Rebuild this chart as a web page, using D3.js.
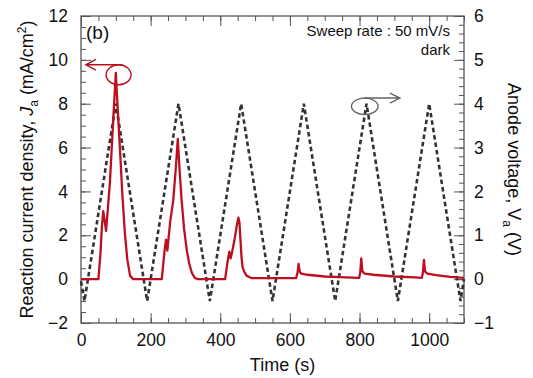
<!DOCTYPE html>
<html>
<head>
<meta charset="utf-8">
<script src="https://cdn.jsdelivr.net/npm/d3@7"></script>
<style>
  body { margin: 0; background: #fff; }
  svg { display: block; font-family: "Liberation Sans", Arial, sans-serif; }
</style>
</head>
<body>
<div id="chart"></div>
<script>
// anode voltage (dashed, right axis) - triangle sweep corners
const voltTime = [0, 10, 100, 190, 280, 370, 460, 550, 640, 730, 820, 910, 1000, 1090, 1100];
const voltValue = [-0.05, -0.5, 4, -0.5, 4, -0.5, 4, -0.5, 4, -0.5, 4, -0.5, 4, -0.5, 0];

// reaction current density (red, left axis)
const curTime = [0, 50, 56, 60, 64, 72, 83, 93, 100, 106, 112, 119, 126, 133, 141, 150,
  232, 240, 244, 248, 256, 265, 272, 278, 283, 289, 296, 304, 311, 318, 327, 335,
  414, 420, 426, 430, 436, 442, 448, 452, 455, 458, 461, 464, 470, 476, 490,
  618, 622, 625, 628, 633, 650, 700, 760, 799,
  802, 805, 808, 815, 840, 900, 960, 979,
  982, 985, 988, 995, 1020, 1060, 1100];
const curValue = [0, 0, 1.2, 2.4, 3.1, 2.2, 4.4, 7.4, 9.4, 7.6, 5.9, 3.8, 2.1, 0.9, 0.15, 0,
  0, 1.3, 1.8, 1.3, 2.6, 3.6, 5.0, 6.4, 5.0, 3.6, 2.3, 1.3, 0.7, 0.3, 0.05, 0,
  0, 0.7, 1.25, 0.95, 1.4, 1.9, 2.5, 2.8, 2.6, 1.8, 1.0, 0.55, 0.3, 0.15, 0.05,
  0.05, 0.3, 0.7, 0.35, 0.25, 0.2, 0.12, 0.08, 0.06,
  0.3, 0.95, 0.35, 0.25, 0.2, 0.12, 0.08, 0.06,
  0.3, 0.88, 0.35, 0.25, 0.18, 0.1, 0.06];

const xTicks = [0, 200, 400, 600, 800, 1000];
const jTicks = [-2, 0, 2, 4, 6, 8, 10, 12];
const vTicks = [-1, 0, 1, 2, 3, 4, 5, 6];

// annotation anchors in data units
const redMark = { t: 108, j: 9.32, arrowTo: 14 };
const greyMark = { t: 815, v: 3.94, arrowTo: 916 };

const width = 533, height = 378;
const margin = { top: 16, right: 69, bottom: 55, left: 81 };
const plotW = width - margin.left - margin.right;
const plotH = height - margin.top - margin.bottom;

const svg = d3.select('#chart').append('svg')
  .attr('width', width)
  .attr('height', height);
const g = svg.append('g')
  .attr('transform', `translate(${margin.left},${margin.top})`);

const x = d3.scaleLinear().domain([0, 1100]).range([0, plotW]);
const yJ = d3.scaleLinear().domain([-2, 12]).range([plotH, 0]);
const yV = d3.scaleLinear().domain([-1, 6]).range([plotH, 0]);

const axisColor = '#555';
const major = 10, minor = 5;
const fmt = d3.format('d');

function styleAxis(sel) {
  sel.select('.domain').remove();
  sel.selectAll('line').attr('stroke', axisColor).attr('stroke-width', 1);
  sel.selectAll('text')
    .attr('fill', '#111')
    .style('font-size', '17.5px');
}

// minor ticks
g.append('g').attr('transform', `translate(0,${plotH})`)
  .call(d3.axisBottom(x).tickValues(d3.range(0, 1101, 50)).tickSize(-minor).tickFormat(''))
  .call(styleAxis);
g.append('g')
  .call(d3.axisTop(x).tickValues(d3.range(0, 1101, 50)).tickSize(-minor).tickFormat(''))
  .call(styleAxis);
g.append('g')
  .call(d3.axisLeft(yJ).tickValues(d3.range(-2, 12.01, 0.5)).tickSize(-minor).tickFormat(''))
  .call(styleAxis);
g.append('g').attr('transform', `translate(${plotW},0)`)
  .call(d3.axisRight(yV).tickValues(d3.range(-1, 6.01, 0.2)).tickSize(-minor).tickFormat(''))
  .call(styleAxis);

// major ticks with labels
g.append('g').attr('transform', `translate(0,${plotH})`)
  .call(d3.axisBottom(x).tickValues(xTicks).tickSize(-major).tickPadding(11).tickFormat(fmt))
  .call(styleAxis);
g.append('g')
  .call(d3.axisTop(x).tickValues(xTicks).tickSize(-major).tickFormat(''))
  .call(styleAxis);
g.append('g')
  .call(d3.axisLeft(yJ).tickValues(jTicks).tickSize(-major).tickPadding(13).tickFormat(fmt))
  .call(styleAxis);
g.append('g').attr('transform', `translate(${plotW},0)`)
  .call(d3.axisRight(yV).tickValues(vTicks).tickSize(-major).tickPadding(10).tickFormat(fmt))
  .call(styleAxis);

// frame
g.append('rect')
  .attr('width', plotW).attr('height', plotH)
  .attr('fill', 'none')
  .attr('stroke', axisColor)
  .attr('stroke-width', 1.3);

const plot = g.append('g');

const voltLine = d3.line()
  .x((d, i) => x(voltTime[i]))
  .y(d => yV(d));
plot.append('path')
  .datum(voltValue)
  .attr('fill', 'none')
  .attr('stroke', '#333')
  .attr('stroke-width', 2.6)
  .attr('stroke-dasharray', '4.5 3')
  .attr('d', voltLine);

const red = '#bd0f1f';
const curLine = d3.line()
  .x((d, i) => x(curTime[i]))
  .y(d => yJ(d));
plot.append('path')
  .datum(curValue)
  .attr('fill', 'none')
  .attr('stroke', red)
  .attr('stroke-width', 2.3)
  .attr('stroke-linejoin', 'round')
  .attr('d', curLine);

// red marker: circle + arrow to the left
const rcx = x(redMark.t), rcy = yJ(redMark.j);
g.append('ellipse')
  .attr('cx', rcx).attr('cy', rcy).attr('rx', 12.5).attr('ry', 10)
  .attr('fill', 'none').attr('stroke', red).attr('stroke-width', 1.4);
const rx2 = x(redMark.arrowTo);
g.append('path')
  .attr('d', `M${rcx + 4},${rcy - 10}H${rx2}M${rx2 + 10},${rcy - 15.3}L${rx2},${rcy - 10}L${rx2 + 10},${rcy - 4.7}`)
  .attr('fill', 'none').attr('stroke', red).attr('stroke-width', 1.4);

// grey marker: circle + arrow to the right
const grey = '#666';
const gcx = x(greyMark.t), gcy = yV(greyMark.v);
g.append('ellipse')
  .attr('cx', gcx).attr('cy', gcy).attr('rx', 13.3).attr('ry', 8.3)
  .attr('fill', 'none').attr('stroke', grey).attr('stroke-width', 1.4);
const gx2 = x(greyMark.arrowTo);
g.append('path')
  .attr('d', `M${gcx},${gcy - 8.3}H${gx2}M${gx2 - 10},${gcy - 13.3}L${gx2},${gcy - 8.3}L${gx2 - 10},${gcy - 3.3}`)
  .attr('fill', 'none').attr('stroke', grey).attr('stroke-width', 1.4);

// texts
svg.append('text')
  .attr('x', 86).attr('y', 39)
  .style('font-size', '19px')
  .attr('fill', '#111')
  .text('(b)');
svg.append('text')
  .attr('x', 450).attr('y', 36)
  .attr('text-anchor', 'end')
  .style('font-size', '15px')
  .attr('fill', '#111')
  .text('Sweep rate : 50 mV/s');
svg.append('text')
  .attr('x', 450).attr('y', 55)
  .attr('text-anchor', 'end')
  .style('font-size', '15px')
  .attr('fill', '#111')
  .text('dark');

svg.append('text')
  .attr('x', margin.left + plotW / 2 + 10).attr('y', 371)
  .attr('text-anchor', 'middle')
  .style('font-size', '18px')
  .attr('fill', '#111')
  .text('Time (s)');

const yl = svg.append('text')
  .attr('transform', `translate(33,${margin.top + plotH / 2}) rotate(-90)`)
  .attr('text-anchor', 'middle')
  .style('font-size', '18px')
  .attr('fill', '#111');
yl.append('tspan').text('Reaction current density, ');
yl.append('tspan').style('font-style', 'italic').text('J');
yl.append('tspan').attr('dy', 5).style('font-size', '12px').text('a');
yl.append('tspan').attr('dy', -5).text(' (mA/cm');
yl.append('tspan').attr('dy', -7).style('font-size', '12px').text('2');
yl.append('tspan').attr('dy', 7).text(')');

const vl = svg.append('text')
  .attr('transform', `translate(508,${margin.top + plotH / 2}) rotate(90)`)
  .attr('text-anchor', 'middle')
  .style('font-size', '18px')
  .attr('fill', '#111');
vl.append('tspan').text('Anode voltage, ');
vl.append('tspan').text('V');
vl.append('tspan').attr('dy', 5).style('font-size', '12px').text('a');
vl.append('tspan').attr('dy', -5).text(' (V)');
</script>
</body>
</html>
